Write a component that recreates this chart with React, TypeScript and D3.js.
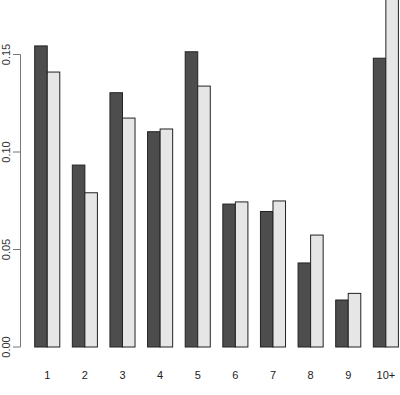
import * as d3 from "d3";

// categories and the two series (share of total)
const categories = ["1", "2", "3", "4", "5", "6", "7", "8", "9", "10+"];
const seriesA = [0.1544, 0.0933, 0.1304, 0.1104, 0.1514, 0.0733, 0.0695, 0.0431, 0.0241, 0.1481];
const seriesB = [0.141, 0.0791, 0.1174, 0.1118, 0.1338, 0.0744, 0.0749, 0.0574, 0.0275, 0.19];
const yTicks = [0, 0.05, 0.1, 0.15];
const colors = ["#4D4D4D", "#E6E6E6"];

function App() {
  const width = 400;
  const height = 395;

  // bar units like R's barplot(beside = TRUE): group i occupies units 1+3i .. 3+3i
  const x = d3.scaleLinear().domain([1, 30]).range([34.7, 398.4]);
  const y = d3.scaleLinear().domain([0, 0.15]).range([347, 54.5]);

  const series = [seriesA, seriesB];

  return (
    <svg
      width={width}
      height={height}
      style={{ position: "absolute", left: 0, top: 0, background: "#fff" }}
      fontFamily="'Liberation Sans', Arial, sans-serif"
    >
      {series.map((vals, s) =>
        vals.map((v, i) => {
          const x0 = x(1 + 3 * i + s);
          const x1 = x(2 + 3 * i + s);
          const top = y(v);
          return (
            <rect
              key={`${s}-${i}`}
              x={x0}
              y={top}
              width={x1 - x0}
              height={y(0) - top}
              fill={colors[s]}
              stroke="#222"
              strokeWidth={1}
            />
          );
        })
      )}

      {/* left axis */}
      <line x1={20.5} x2={20.5} y1={y(0)} y2={y(0.15)} stroke="#777" />
      {yTicks.map((t) => (
        <g key={t}>
          <line x1={13} x2={20.5} y1={y(t)} y2={y(t)} stroke="#777" />
          <text
            transform={`translate(9.5,${y(t)}) rotate(-90)`}
            textAnchor="middle"
            fontSize={11}
            fill="#333"
          >
            {t.toFixed(2)}
          </text>
        </g>
      ))}

      {/* category labels */}
      {categories.map((c, i) => (
        <text
          key={c}
          x={x(2 + 3 * i)}
          y={379}
          textAnchor="middle"
          fontSize={11}
          fill="#222"
        >
          {c}
        </text>
      ))}
    </svg>
  );
}

export default App;
